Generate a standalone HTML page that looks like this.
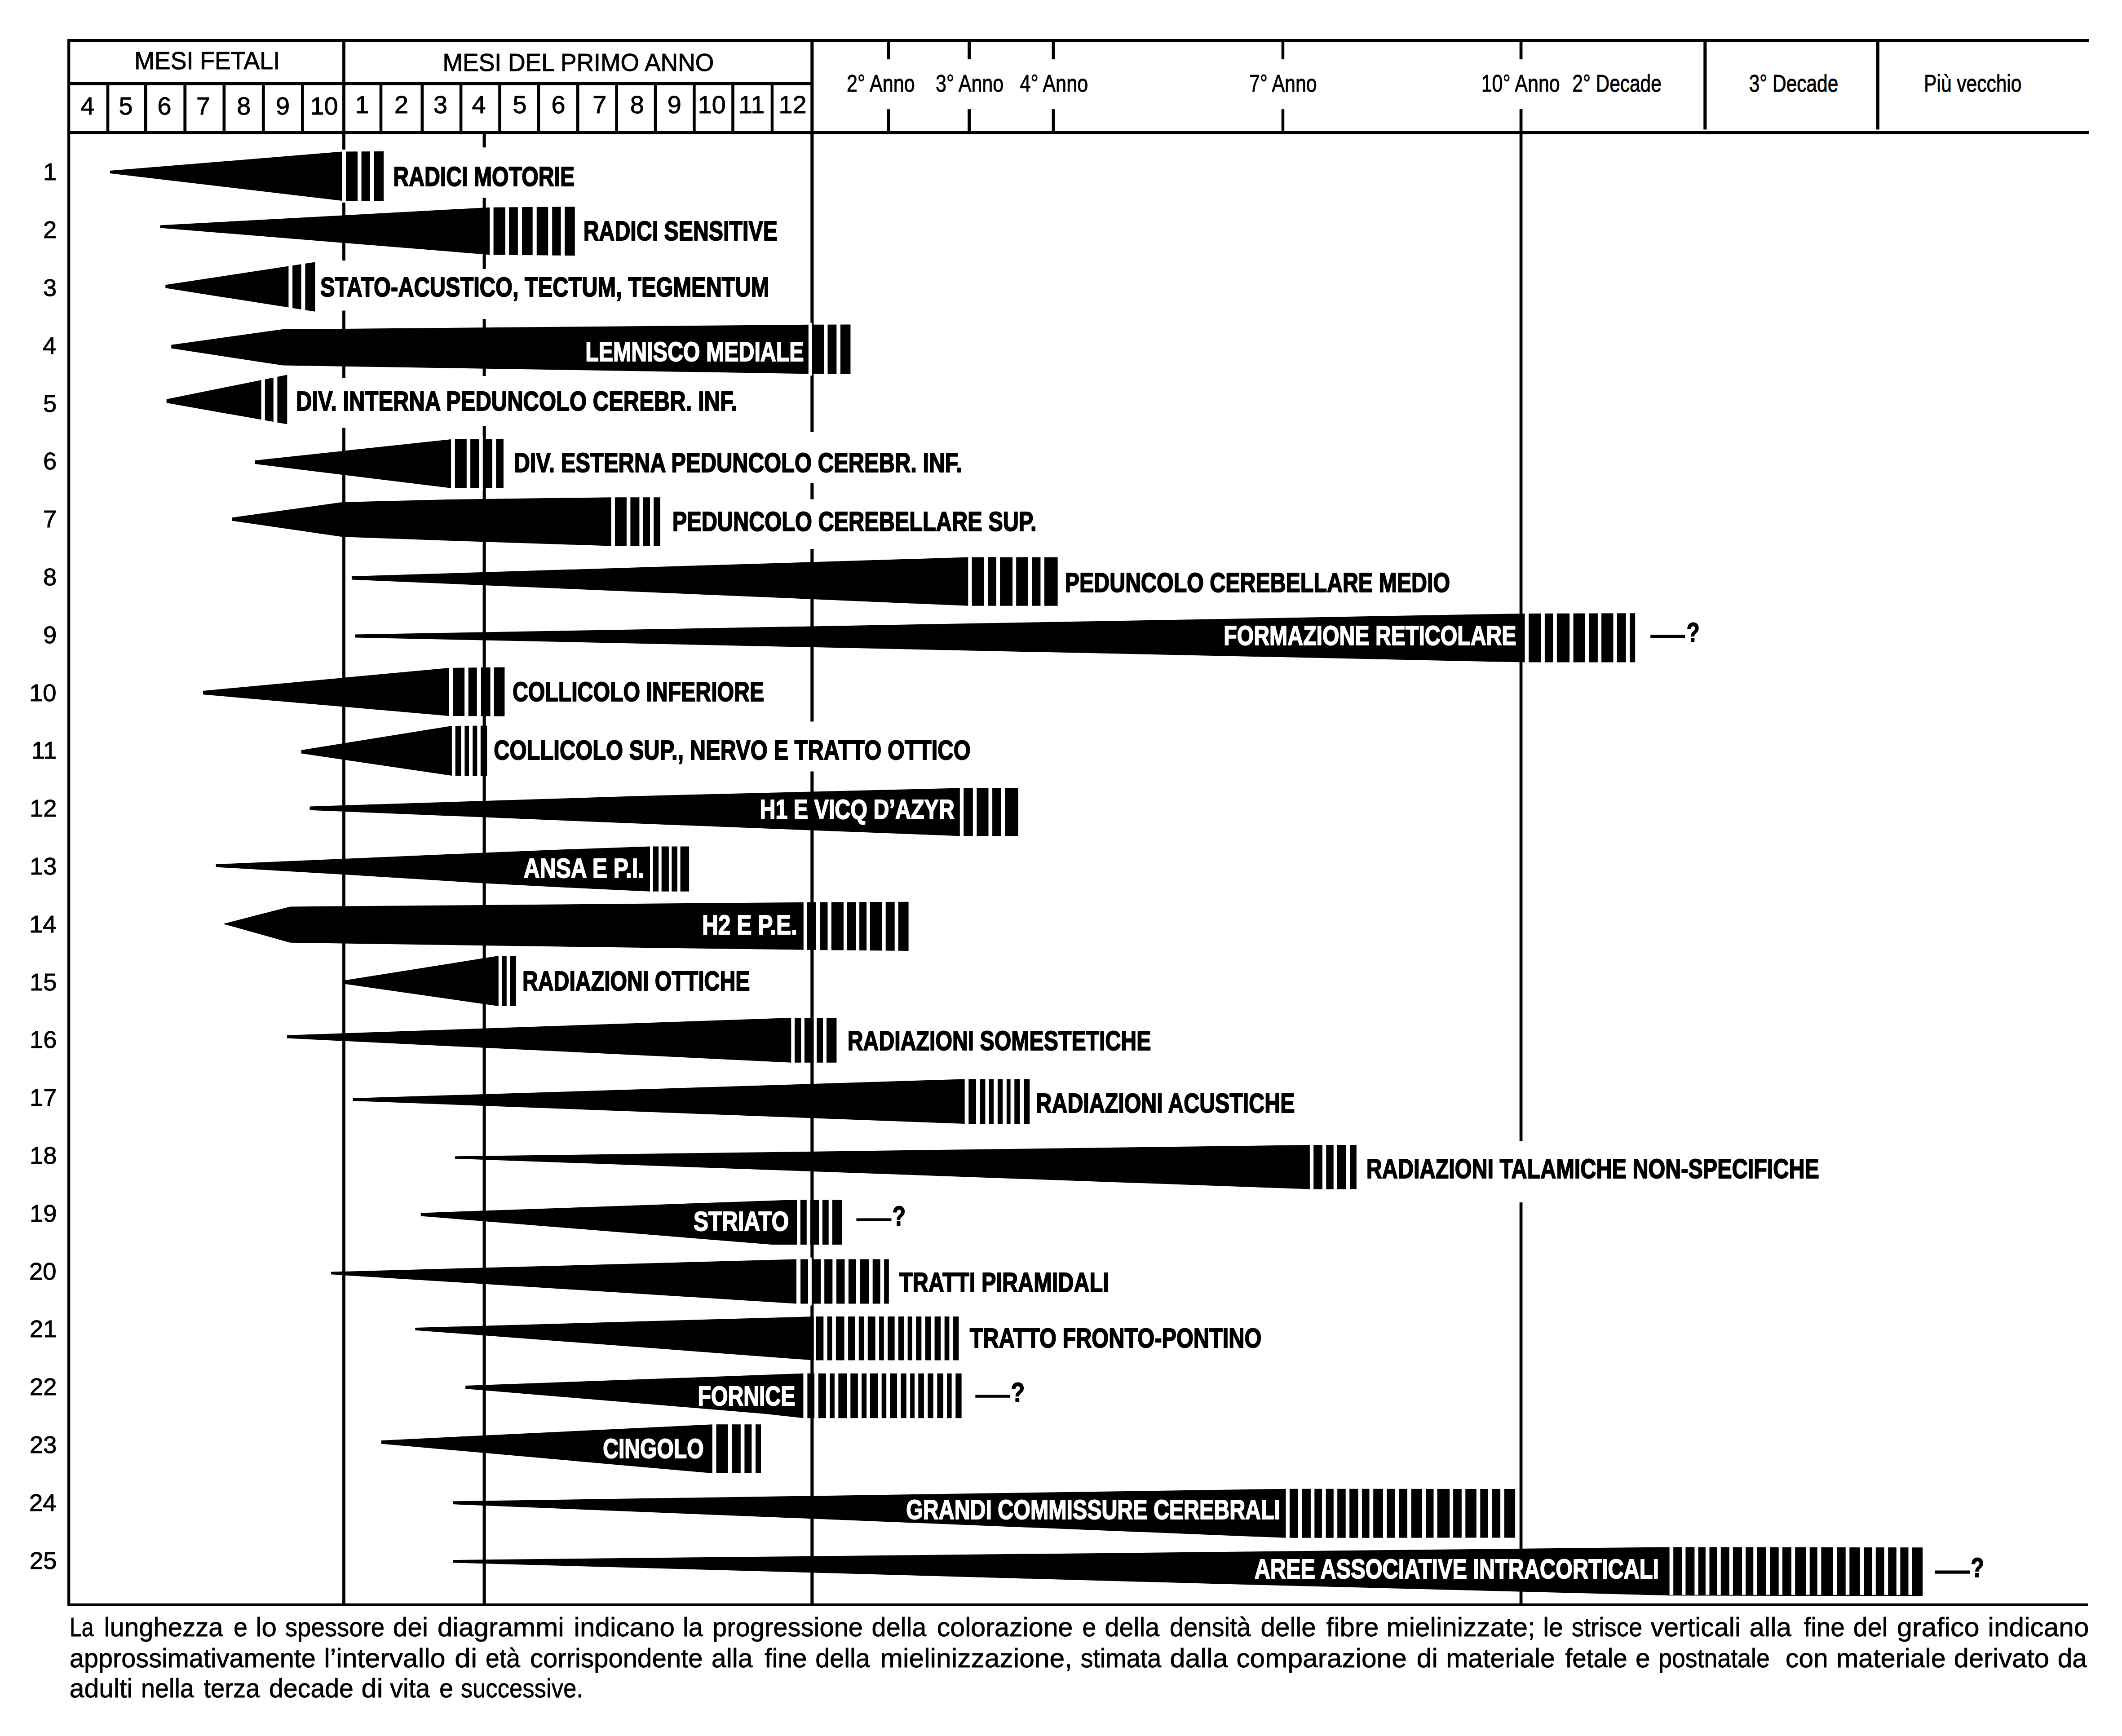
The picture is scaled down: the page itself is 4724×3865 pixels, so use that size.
<!DOCTYPE html><html><head><meta charset="utf-8"><title>Mielinizzazione</title><style>html,body{margin:0;padding:0;background:#fff;}svg{display:block;}text{font-family:"Liberation Sans",Arial,Helvetica,sans-serif;}</style></head><body>
<svg width="4724" height="3865" viewBox="0 0 4724 3865">
<rect x="0" y="0" width="4724" height="3865" fill="#fff"/>
<g id="frame">
<rect x="150" y="87" width="4500" height="7" fill="#000"/>
<rect x="150" y="87" width="6.3" height="3489" fill="#000"/>
<rect x="150" y="182.5" width="1658" height="7.2" fill="#000"/>
<rect x="150" y="292" width="4501" height="7" fill="#000"/>
<rect x="150" y="3569.8" width="4498" height="6.2" fill="#000"/>
<rect x="236.7" y="189" width="6.6" height="104" fill="#000"/>
<rect x="320.9" y="189" width="6.8" height="104" fill="#000"/>
<rect x="408.4" y="189" width="6.8" height="104" fill="#000"/>
<rect x="495.5" y="189" width="6.7" height="104" fill="#000"/>
<rect x="582.9" y="189" width="6.8" height="104" fill="#000"/>
<rect x="670" y="189" width="6.8" height="104" fill="#000"/>
<rect x="844.7" y="189" width="6.6" height="104" fill="#000"/>
<rect x="936.5" y="189" width="6.8" height="104" fill="#000"/>
<rect x="1022.8" y="189" width="6.6" height="104" fill="#000"/>
<rect x="1109.2" y="189" width="6.6" height="104" fill="#000"/>
<rect x="1195.7" y="189" width="6.6" height="104" fill="#000"/>
<rect x="1282.9" y="189" width="6.6" height="104" fill="#000"/>
<rect x="1369.3" y="189" width="6.4" height="104" fill="#000"/>
<rect x="1455.8" y="189" width="6.6" height="104" fill="#000"/>
<rect x="1542.1" y="189" width="6.6" height="104" fill="#000"/>
<rect x="1628.2" y="189" width="6.6" height="104" fill="#000"/>
<rect x="1715.7" y="189" width="6.4" height="104" fill="#000"/>
<rect x="1974.7" y="93" width="6.8" height="39.1" fill="#000"/>
<rect x="1974.7" y="243.2" width="6.8" height="49.8" fill="#000"/>
<rect x="2154.2" y="93" width="7.1" height="39.1" fill="#000"/>
<rect x="2154.2" y="243.2" width="7.1" height="49.8" fill="#000"/>
<rect x="2341.6" y="93" width="7" height="39.1" fill="#000"/>
<rect x="2341.6" y="243.2" width="7" height="49.8" fill="#000"/>
<rect x="2852.7" y="93" width="6.5" height="39.1" fill="#000"/>
<rect x="2852.7" y="243.2" width="6.5" height="49.8" fill="#000"/>
<rect x="3792.3" y="93" width="7.1" height="195.4" fill="#000"/>
<rect x="4176.8" y="93" width="7.1" height="195.4" fill="#000"/>
<rect x="762.1" y="87" width="6.8" height="493" fill="#000"/>
<rect x="762.1" y="691.5" width="6.8" height="149.5" fill="#000"/>
<rect x="762.1" y="952.5" width="6.8" height="2620.5" fill="#000"/>
<rect x="1074.6" y="298" width="7" height="30.3" fill="#000"/>
<rect x="1074.6" y="440.3" width="7" height="158.7" fill="#000"/>
<rect x="1074.6" y="710" width="7" height="127" fill="#000"/>
<rect x="1074.6" y="948.9" width="7" height="2624.1" fill="#000"/>
<rect x="1804.3" y="87" width="7.1" height="875" fill="#000"/>
<rect x="1804.3" y="1075.4" width="7.1" height="36.1" fill="#000"/>
<rect x="1804.3" y="1222" width="7.1" height="384.5" fill="#000"/>
<rect x="1804.3" y="1717.5" width="7.1" height="1855.5" fill="#000"/>
<rect x="3382.7" y="93" width="6.7" height="39.1" fill="#000"/>
<rect x="3382.7" y="243" width="6.7" height="2298" fill="#000"/>
<rect x="3382.7" y="2677" width="6.7" height="896" fill="#000"/>
</g>
<g id="wedges">
<polygon points="245,380 761.6,337.6 854.1,337 854.1,447 761.6,447 245,386" fill="#000"/>
<polygon points="356.4,501.5 1090.2,461.7 1279.7,460.3 1279.7,569 1090.2,567.2 356.4,507.5" fill="#000"/>
<polygon points="368.3,634.2 701.3,583.6 701.3,693.8 368.3,641.3" fill="#000"/>
<polygon points="381.3,767.8 629.7,733.1 1799.8,722.8 1893.4,722.6 1893.4,832.3 1799.8,832.3 629.7,813.5 381.3,775.6" fill="#000"/>
<polygon points="370.7,888.7 639.3,834.5 639.3,944.5 370.7,897" fill="#000"/>
<polygon points="567.8,1025.1 1004.2,977.9 1120.9,977.8 1120.9,1086.8 1004.2,1086.8 567.8,1033" fill="#000"/>
<polygon points="516.8,1152.3 762,1118 1000,1111.9 1360.7,1107.2 1470,1107.2 1470,1215.6 1360.7,1215.6 1000,1203.7 762,1195.2 516.8,1159.6" fill="#000"/>
<polygon points="782.9,1282.9 2155.3,1240.6 2354.6,1240.6 2354.6,1348.8 2155.3,1348.8 782.9,1290.5" fill="#000"/>
<polygon points="790.5,1412.6 3394.5,1365.9 3640.2,1365.2 3640.2,1474.6 3394.5,1474.6 790.5,1419.4" fill="#000"/>
<polygon points="452,1538 999.5,1487 1123.4,1485.5 1123.4,1594.8 999.5,1594 452,1546.3" fill="#000"/>
<polygon points="670.7,1670 1005.9,1616 1084.2,1615.5 1084.2,1727.5 1005.9,1727 670.7,1677.5" fill="#000"/>
<polygon points="689.5,1795.4 1420,1772.2 2136.8,1754.4 2266.9,1754.4 2266.9,1861.2 2136.8,1861.2 1420,1833.6 689.5,1803.7" fill="#000"/>
<polygon points="480.7,1924.1 765,1912 1078,1898.5 1260,1891 1447,1884.5 1534.1,1884.5 1534.1,1984.8 1447,1984.8 1260,1976 1078,1966.5 765,1947 480.7,1930.5" fill="#000"/>
<polygon points="498.3,2056.4 646,2018.4 1250,2013.5 1788.8,2008.8 2022.6,2007.8 2022.6,2117 1788.8,2114.7 1250,2107.6 646,2098.7 498.3,2057.4" fill="#000"/>
<polygon points="767.8,2182.4 1109.8,2128.1 1148.9,2128.1 1148.9,2240 1109.8,2240 767.8,2190.7" fill="#000"/>
<polygon points="638.8,2304.8 1761.3,2266.1 1862.4,2266.1 1862.4,2365.7 1761.3,2365.7 638.8,2311.6" fill="#000"/>
<polygon points="785.5,2445.1 2147.6,2402.5 2292.2,2402.5 2292.2,2502.1 2147.6,2502.1 785.5,2451.1" fill="#000"/>
<polygon points="1012.9,2574.4 2915.9,2549.1 3019.8,2549.1 3019.8,2647.5 2915.9,2647.5 1012.9,2579.7" fill="#000"/>
<polygon points="936.7,2700.4 1774,2671 1874.8,2671 1874.8,2771 1718,2770.9 936.7,2707.5" fill="#000"/>
<polygon points="736.9,2831.6 1773,2803.6 1978.8,2803.6 1978.8,2902.5 1773,2902.5 736.9,2837.3" fill="#000"/>
<polygon points="924.3,2956 1811.7,2931 2134.4,2931 2134.4,3028.6 1811.7,3028.6 924.3,2961.7" fill="#000"/>
<polygon points="1036.2,3085.1 1788.4,3057.8 2140.6,3057.8 2140.6,3157.2 1788.4,3157.2 1700,3147.5 1036.2,3091.9" fill="#000"/>
<polygon points="848.8,3206.9 1585.8,3171.3 1694,3171.3 1694,3280 1585.8,3280 848.8,3214.5" fill="#000"/>
<polygon points="1008.1,3342.3 2862.4,3314.8 3373.1,3315 3373.1,3423.5 2862.4,3423.8 1008.1,3349.1" fill="#000"/>
<polygon points="1008.1,3473 2700,3455.3 3716.6,3444.4 4280.2,3445.3 4280.2,3553.8 3716.6,3552.2 2700,3526 1008.1,3479.3" fill="#000"/>
</g>
<g id="gaps" fill="#fff">
<rect x="761.6" y="333" width="8.5" height="118"/>
<rect x="796.1" y="333" width="8.5" height="118"/>
<rect x="823.5" y="333" width="8.5" height="118"/>
<rect x="1090.2" y="456.3" width="8.4" height="116.7"/>
<rect x="1124.9" y="456.3" width="8.2" height="116.7"/>
<rect x="1152.9" y="456.3" width="9.1" height="116.7"/>
<rect x="1185.7" y="456.3" width="9.1" height="116.7"/>
<rect x="1220.2" y="456.3" width="9" height="116.7"/>
<rect x="1248.5" y="456.3" width="8.5" height="116.7"/>
<rect x="642.4" y="579.6" width="8.7" height="118.2"/>
<rect x="670.6" y="579.6" width="8.8" height="118.2"/>
<rect x="1799.8" y="718.6" width="8.1" height="117.7"/>
<rect x="1834.2" y="718.6" width="8.3" height="117.7"/>
<rect x="1862.3" y="718.6" width="8.6" height="117.7"/>
<rect x="581.6" y="830.5" width="8.2" height="118"/>
<rect x="608.7" y="830.5" width="8.7" height="118"/>
<rect x="1004.1" y="973.8" width="8.8" height="117"/>
<rect x="1038.8" y="973.8" width="8.3" height="117"/>
<rect x="1067" y="973.8" width="7.8" height="117"/>
<rect x="1096" y="973.8" width="8.3" height="117"/>
<rect x="1360.7" y="1103.2" width="8.2" height="116.4"/>
<rect x="1394.9" y="1103.2" width="8.5" height="116.4"/>
<rect x="1423.4" y="1103.2" width="8.3" height="116.4"/>
<rect x="1447" y="1103.2" width="8.2" height="116.4"/>
<rect x="2155.3" y="1236.6" width="8.4" height="116.2"/>
<rect x="2190" y="1236.6" width="9" height="116.2"/>
<rect x="2218" y="1236.6" width="8.1" height="116.2"/>
<rect x="2254.1" y="1236.6" width="8.1" height="116.2"/>
<rect x="2288.9" y="1236.6" width="8.4" height="116.2"/>
<rect x="2316.4" y="1236.6" width="8.5" height="116.2"/>
<rect x="3394.5" y="1361.2" width="8.6" height="117.4"/>
<rect x="3430.4" y="1361.2" width="8.5" height="117.4"/>
<rect x="3457.3" y="1361.2" width="8.6" height="117.4"/>
<rect x="3494.1" y="1361.2" width="8.5" height="117.4"/>
<rect x="3528.7" y="1361.2" width="8.3" height="117.4"/>
<rect x="3556.9" y="1361.2" width="8.2" height="117.4"/>
<rect x="3591.5" y="1361.2" width="8.3" height="117.4"/>
<rect x="3619.7" y="1361.2" width="8.5" height="117.4"/>
<rect x="999.5" y="1481.5" width="8.7" height="117.3"/>
<rect x="1034.1" y="1481.5" width="8.6" height="117.3"/>
<rect x="1061.7" y="1481.5" width="9.2" height="117.3"/>
<rect x="1091.6" y="1481.5" width="8.2" height="117.3"/>
<rect x="1005.9" y="1611.5" width="7.8" height="120"/>
<rect x="1026.6" y="1611.5" width="7.8" height="120"/>
<rect x="1044.1" y="1611.5" width="8.1" height="120"/>
<rect x="1062.3" y="1611.5" width="7.6" height="120"/>
<rect x="2136.8" y="1750.4" width="8.5" height="114.8"/>
<rect x="2165.8" y="1750.4" width="8.6" height="114.8"/>
<rect x="2200.5" y="1750.4" width="8.6" height="114.8"/>
<rect x="2228.6" y="1750.4" width="8.5" height="114.8"/>
<rect x="1447" y="1880.5" width="6.7" height="108.3"/>
<rect x="1466.1" y="1880.5" width="6.6" height="108.3"/>
<rect x="1488.9" y="1880.5" width="6.4" height="108.3"/>
<rect x="1507.9" y="1880.5" width="6.7" height="108.3"/>
<rect x="1788.8" y="2003.8" width="8.2" height="117.2"/>
<rect x="1816.8" y="2003.8" width="8.2" height="117.2"/>
<rect x="1842.5" y="2003.8" width="8.3" height="117.2"/>
<rect x="1877.9" y="2003.8" width="8.1" height="117.2"/>
<rect x="1905.1" y="2003.8" width="8" height="117.2"/>
<rect x="1929.1" y="2003.8" width="7.8" height="117.2"/>
<rect x="1963.4" y="2003.8" width="8.3" height="117.2"/>
<rect x="1991.7" y="2003.8" width="8" height="117.2"/>
<rect x="1109.8" y="2124.1" width="7.3" height="119.9"/>
<rect x="1127.8" y="2124.1" width="7.5" height="119.9"/>
<rect x="1761.3" y="2262.1" width="7.7" height="107.6"/>
<rect x="1783.4" y="2262.1" width="7.5" height="107.6"/>
<rect x="1811.5" y="2262.1" width="6.7" height="107.6"/>
<rect x="1832.1" y="2262.1" width="7.9" height="107.6"/>
<rect x="2147.6" y="2398.5" width="8.7" height="107.6"/>
<rect x="2173" y="2398.5" width="8.9" height="107.6"/>
<rect x="2193.4" y="2398.5" width="8.2" height="107.6"/>
<rect x="2212" y="2398.5" width="8.9" height="107.6"/>
<rect x="2232.1" y="2398.5" width="8.8" height="107.6"/>
<rect x="2249.6" y="2398.5" width="8.7" height="107.6"/>
<rect x="2270.3" y="2398.5" width="8.7" height="107.6"/>
<rect x="2915.9" y="2545.1" width="8.3" height="106.4"/>
<rect x="2943.9" y="2545.1" width="8.4" height="106.4"/>
<rect x="2968.7" y="2545.1" width="8.2" height="106.4"/>
<rect x="2996.9" y="2545.1" width="8.2" height="106.4"/>
<rect x="1774" y="2667" width="7.8" height="108"/>
<rect x="1795.8" y="2667" width="7.9" height="108"/>
<rect x="1823.2" y="2667" width="7.7" height="108"/>
<rect x="1844.7" y="2667" width="8.1" height="108"/>
<rect x="1773" y="2799.6" width="9.1" height="106.9"/>
<rect x="1799" y="2799.6" width="7.9" height="106.9"/>
<rect x="1827" y="2799.6" width="8.2" height="106.9"/>
<rect x="1853.3" y="2799.6" width="8.7" height="106.9"/>
<rect x="1880.4" y="2799.6" width="8.5" height="106.9"/>
<rect x="1905.9" y="2799.6" width="8.5" height="106.9"/>
<rect x="1934.2" y="2799.6" width="8.5" height="106.9"/>
<rect x="1959.6" y="2799.6" width="8.5" height="106.9"/>
<rect x="1811.7" y="2927" width="4.6" height="105.6"/>
<rect x="1833.3" y="2927" width="8.4" height="105.6"/>
<rect x="1852.4" y="2927" width="8.5" height="105.6"/>
<rect x="1879.6" y="2927" width="8.5" height="105.6"/>
<rect x="1903.3" y="2927" width="8.5" height="105.6"/>
<rect x="1923.4" y="2927" width="8.4" height="105.6"/>
<rect x="1948.6" y="2927" width="8.5" height="105.6"/>
<rect x="1967.8" y="2927" width="8.5" height="105.6"/>
<rect x="1991.6" y="2927" width="8.4" height="105.6"/>
<rect x="2012.3" y="2927" width="8.4" height="105.6"/>
<rect x="2030.6" y="2927" width="8.5" height="105.6"/>
<rect x="2051.3" y="2927" width="8.5" height="105.6"/>
<rect x="2072.5" y="2927" width="8.1" height="105.6"/>
<rect x="2094.2" y="2927" width="8.5" height="105.6"/>
<rect x="2113.4" y="2927" width="8.3" height="105.6"/>
<rect x="1788.4" y="3053.8" width="9" height="107.4"/>
<rect x="1813.1" y="3053.8" width="8.7" height="107.4"/>
<rect x="1838.9" y="3053.8" width="8.2" height="107.4"/>
<rect x="1857.9" y="3053.8" width="8.4" height="107.4"/>
<rect x="1885.1" y="3053.8" width="8.2" height="107.4"/>
<rect x="1909.9" y="3053.8" width="8.2" height="107.4"/>
<rect x="1929.1" y="3053.8" width="7.8" height="107.4"/>
<rect x="1954" y="3053.8" width="8.7" height="107.4"/>
<rect x="1973.2" y="3053.8" width="8.5" height="107.4"/>
<rect x="1997.1" y="3053.8" width="8.2" height="107.4"/>
<rect x="2017.7" y="3053.8" width="8.5" height="107.4"/>
<rect x="2036" y="3053.8" width="8.3" height="107.4"/>
<rect x="2056.9" y="3053.8" width="8.5" height="107.4"/>
<rect x="2077.7" y="3053.8" width="8.7" height="107.4"/>
<rect x="2100" y="3053.8" width="8.2" height="107.4"/>
<rect x="2118.6" y="3053.8" width="8.7" height="107.4"/>
<rect x="1585.8" y="3167.3" width="8.7" height="116.7"/>
<rect x="1620.5" y="3167.3" width="8.7" height="116.7"/>
<rect x="1648.8" y="3167.3" width="8.6" height="116.7"/>
<rect x="1673.3" y="3167.3" width="8.7" height="116.7"/>
<rect x="2862.4" y="3310.8" width="8.5" height="117"/>
<rect x="2889.6" y="3310.8" width="8.5" height="117"/>
<rect x="2917.9" y="3310.8" width="8.4" height="117"/>
<rect x="2942.9" y="3310.8" width="8.7" height="117"/>
<rect x="2968.8" y="3310.8" width="8.4" height="117"/>
<rect x="2995.7" y="3310.8" width="8.5" height="117"/>
<rect x="3023.4" y="3310.8" width="8.5" height="117"/>
<rect x="3048.5" y="3310.8" width="8.7" height="117"/>
<rect x="3078.9" y="3310.8" width="8.4" height="117"/>
<rect x="3105.8" y="3310.8" width="8.7" height="117"/>
<rect x="3133" y="3310.8" width="8.7" height="117"/>
<rect x="3165.9" y="3310.8" width="8.5" height="117"/>
<rect x="3191.5" y="3310.8" width="8.2" height="117"/>
<rect x="3227.2" y="3310.8" width="7.9" height="117"/>
<rect x="3253.8" y="3310.8" width="8.5" height="117"/>
<rect x="3286.8" y="3310.8" width="8.5" height="117"/>
<rect x="3313" y="3310.8" width="8.7" height="117"/>
<rect x="3340.1" y="3310.8" width="8.7" height="117"/>
<rect x="3716.6" y="3440.4" width="8.6" height="110.4"/>
<rect x="3744.1" y="3440.4" width="8.3" height="110.4"/>
<rect x="3772.4" y="3440.4" width="8.3" height="110.4"/>
<rect x="3796.9" y="3440.4" width="8.6" height="110.4"/>
<rect x="3822.5" y="3440.4" width="8.3" height="110.4"/>
<rect x="3849.7" y="3440.4" width="8.2" height="110.4"/>
<rect x="3877.9" y="3440.4" width="8.3" height="110.4"/>
<rect x="3903.2" y="3440.4" width="8.3" height="110.4"/>
<rect x="3931.8" y="3440.4" width="8.3" height="110.4"/>
<rect x="3959.7" y="3440.4" width="8.3" height="110.4"/>
<rect x="3988" y="3440.4" width="8.3" height="110.4"/>
<rect x="4020.1" y="3440.4" width="8.6" height="110.4"/>
<rect x="4045.7" y="3440.4" width="8.7" height="110.4"/>
<rect x="4080.4" y="3440.4" width="8.6" height="110.4"/>
<rect x="4108.7" y="3440.4" width="8.6" height="110.4"/>
<rect x="4140.7" y="3440.4" width="8.7" height="110.4"/>
<rect x="4167.5" y="3440.4" width="8.3" height="110.4"/>
<rect x="4194.6" y="3440.4" width="8.7" height="110.4"/>
<rect x="4221.8" y="3440.4" width="8.6" height="110.4"/>
<rect x="4248.5" y="3440.4" width="8.3" height="110.4"/>
</g>
<rect x="3674.2" y="1413.3" width="77.2" height="6.8" fill="#000"/>
<rect x="1906.4" y="2712.4" width="78.1" height="6.4" fill="#000"/>
<rect x="2171.3" y="3105.4" width="77.3" height="6.4" fill="#000"/>
<rect x="4307" y="3496.5" width="78" height="7.2" fill="#000"/>
<g id="texts">
<text x="875.3" y="414.4" font-weight="bold" font-size="61.0" fill="#000" stroke="#000" stroke-width="2.0" stroke-linejoin="round" textLength="403.9" lengthAdjust="spacingAndGlyphs">RADICI MOTORIE</text>
<text x="1298.7" y="534.9" font-weight="bold" font-size="61.0" fill="#000" stroke="#000" stroke-width="2.0" stroke-linejoin="round" textLength="432.2" lengthAdjust="spacingAndGlyphs">RADICI SENSITIVE</text>
<text x="712.9" y="659.9" font-weight="bold" font-size="61.0" fill="#000" stroke="#000" stroke-width="2.0" stroke-linejoin="round" textLength="999.6" lengthAdjust="spacingAndGlyphs">STATO-ACUSTICO, TECTUM, TEGMENTUM</text>
<text x="1303.2" y="804.4" font-weight="bold" font-size="61.0" fill="#fff" stroke="#fff" stroke-width="2.0" stroke-linejoin="round" textLength="486.4" lengthAdjust="spacingAndGlyphs">LEMNISCO MEDIALE</text>
<text x="659.1" y="913.9" font-weight="bold" font-size="61.0" fill="#000" stroke="#000" stroke-width="2.0" stroke-linejoin="round" textLength="981.9" lengthAdjust="spacingAndGlyphs">DIV. INTERNA PEDUNCOLO CEREBR. INF.</text>
<text x="1144.4" y="1050.7" font-weight="bold" font-size="61.0" fill="#000" stroke="#000" stroke-width="2.0" stroke-linejoin="round" textLength="997.2" lengthAdjust="spacingAndGlyphs">DIV. ESTERNA PEDUNCOLO CEREBR. INF.</text>
<text x="1496.7" y="1182.2" font-weight="bold" font-size="61.0" fill="#000" stroke="#000" stroke-width="2.0" stroke-linejoin="round" textLength="810.9" lengthAdjust="spacingAndGlyphs">PEDUNCOLO CEREBELLARE SUP.</text>
<text x="2370.8" y="1318.2" font-weight="bold" font-size="61.0" fill="#000" stroke="#000" stroke-width="2.0" stroke-linejoin="round" textLength="857.3" lengthAdjust="spacingAndGlyphs">PEDUNCOLO CEREBELLARE MEDIO</text>
<text x="2724.3" y="1436.2" font-weight="bold" font-size="61.0" fill="#fff" stroke="#fff" stroke-width="2.0" stroke-linejoin="round" textLength="651.2" lengthAdjust="spacingAndGlyphs">FORMAZIONE RETICOLARE</text>
<text x="1140.9" y="1561.1" font-weight="bold" font-size="61.0" fill="#000" stroke="#000" stroke-width="2.0" stroke-linejoin="round" textLength="560.2" lengthAdjust="spacingAndGlyphs">COLLICOLO INFERIORE</text>
<text x="1099.2" y="1690.7" font-weight="bold" font-size="61.0" fill="#000" stroke="#000" stroke-width="2.0" stroke-linejoin="round" textLength="1061.5" lengthAdjust="spacingAndGlyphs">COLLICOLO SUP., NERVO E TRATTO OTTICO</text>
<text x="1691.4" y="1823.1" font-weight="bold" font-size="61.0" fill="#fff" stroke="#fff" stroke-width="2.0" stroke-linejoin="round" textLength="433.5" lengthAdjust="spacingAndGlyphs">H1 E VICQ D’AZYR</text>
<text x="1165.7" y="1954.0" font-weight="bold" font-size="61.0" fill="#fff" stroke="#fff" stroke-width="2.0" stroke-linejoin="round" textLength="268.5" lengthAdjust="spacingAndGlyphs">ANSA E P.I.</text>
<text x="1562.9" y="2080.0" font-weight="bold" font-size="61.0" fill="#fff" stroke="#fff" stroke-width="2.0" stroke-linejoin="round" textLength="212.0" lengthAdjust="spacingAndGlyphs">H2 E P.E.</text>
<text x="1162.9" y="2204.5" font-weight="bold" font-size="61.0" fill="#000" stroke="#000" stroke-width="2.0" stroke-linejoin="round" textLength="506.6" lengthAdjust="spacingAndGlyphs">RADIAZIONI OTTICHE</text>
<text x="1886.7" y="2337.5" font-weight="bold" font-size="61.0" fill="#000" stroke="#000" stroke-width="2.0" stroke-linejoin="round" textLength="675.7" lengthAdjust="spacingAndGlyphs">RADIAZIONI SOMESTETICHE</text>
<text x="2306.6" y="2476.7" font-weight="bold" font-size="61.0" fill="#000" stroke="#000" stroke-width="2.0" stroke-linejoin="round" textLength="575.8" lengthAdjust="spacingAndGlyphs">RADIAZIONI ACUSTICHE</text>
<text x="3041.8" y="2622.5" font-weight="bold" font-size="61.0" fill="#000" stroke="#000" stroke-width="2.0" stroke-linejoin="round" textLength="1008.1" lengthAdjust="spacingAndGlyphs">RADIAZIONI TALAMICHE NON-SPECIFICHE</text>
<text x="1543.9" y="2739.7" font-weight="bold" font-size="61.0" fill="#fff" stroke="#fff" stroke-width="2.0" stroke-linejoin="round" textLength="212.4" lengthAdjust="spacingAndGlyphs">STRIATO</text>
<text x="2001.9" y="2875.7" font-weight="bold" font-size="61.0" fill="#000" stroke="#000" stroke-width="2.0" stroke-linejoin="round" textLength="467.0" lengthAdjust="spacingAndGlyphs">TRATTI PIRAMIDALI</text>
<text x="2158.8" y="3000.0" font-weight="bold" font-size="61.0" fill="#000" stroke="#000" stroke-width="2.0" stroke-linejoin="round" textLength="649.6" lengthAdjust="spacingAndGlyphs">TRATTO FRONTO-PONTINO</text>
<text x="1553.5" y="3128.9" font-weight="bold" font-size="61.0" fill="#fff" stroke="#fff" stroke-width="2.0" stroke-linejoin="round" textLength="216.8" lengthAdjust="spacingAndGlyphs">FORNICE</text>
<text x="1342.3" y="3246.2" font-weight="bold" font-size="61.0" fill="#fff" stroke="#fff" stroke-width="2.0" stroke-linejoin="round" textLength="224.3" lengthAdjust="spacingAndGlyphs">CINGOLO</text>
<text x="2017.2" y="3381.7" font-weight="bold" font-size="61.0" fill="#fff" stroke="#fff" stroke-width="2.0" stroke-linejoin="round" textLength="832.8" lengthAdjust="spacingAndGlyphs">GRANDI COMMISSURE CEREBRALI</text>
<text x="2792.7" y="3513.9" font-weight="bold" font-size="61.0" fill="#fff" stroke="#fff" stroke-width="2.0" stroke-linejoin="round" textLength="900.3" lengthAdjust="spacingAndGlyphs">AREE ASSOCIATIVE INTRACORTICALI</text>
<text x="3754.7" y="1429.2" font-weight="bold" font-size="61.0" fill="#000" stroke="#000" stroke-width="2.0" stroke-linejoin="round" textLength="28.9" lengthAdjust="spacingAndGlyphs">?</text>
<text x="1986.8" y="2727.6" font-weight="bold" font-size="61.0" fill="#000" stroke="#000" stroke-width="2.0" stroke-linejoin="round" textLength="29.3" lengthAdjust="spacingAndGlyphs">?</text>
<text x="2250.5" y="3120.6" font-weight="bold" font-size="61.0" fill="#000" stroke="#000" stroke-width="2.0" stroke-linejoin="round" textLength="30.7" lengthAdjust="spacingAndGlyphs">?</text>
<text x="4387.4" y="3511.4" font-weight="bold" font-size="61.0" fill="#000" stroke="#000" stroke-width="2.0" stroke-linejoin="round" textLength="29.3" lengthAdjust="spacingAndGlyphs">?</text>
<text x="299.2" y="154.1" font-weight="normal" font-size="55.2" fill="#000" stroke="#000" stroke-width="1.0" stroke-linejoin="round" textLength="323.9" lengthAdjust="spacingAndGlyphs">MESI FETALI</text>
<text x="985.5" y="157.5" font-weight="normal" font-size="55.2" fill="#000" stroke="#000" stroke-width="1.0" stroke-linejoin="round" textLength="603.8" lengthAdjust="spacingAndGlyphs">MESI DEL PRIMO ANNO</text>
<text x="179.2" y="255.2" font-weight="normal" font-size="55.8" fill="#000" stroke="#000" stroke-width="1.0" stroke-linejoin="round">4</text>
<text x="264.5" y="255.2" font-weight="normal" font-size="55.8" fill="#000" stroke="#000" stroke-width="1.0" stroke-linejoin="round">5</text>
<text x="350.5" y="255.2" font-weight="normal" font-size="55.8" fill="#000" stroke="#000" stroke-width="1.0" stroke-linejoin="round">6</text>
<text x="437.0" y="255.2" font-weight="normal" font-size="55.8" fill="#000" stroke="#000" stroke-width="1.0" stroke-linejoin="round">7</text>
<text x="527.3" y="255.2" font-weight="normal" font-size="55.8" fill="#000" stroke="#000" stroke-width="1.0" stroke-linejoin="round">8</text>
<text x="614.1" y="255.2" font-weight="normal" font-size="55.8" fill="#000" stroke="#000" stroke-width="1.0" stroke-linejoin="round">9</text>
<text x="690.4" y="255.2" font-weight="normal" font-size="55.8" fill="#000" stroke="#000" stroke-width="1.0" stroke-linejoin="round">10</text>
<text x="790.5" y="251.8" font-weight="normal" font-size="55.8" fill="#000" stroke="#000" stroke-width="1.0" stroke-linejoin="round">1</text>
<text x="878.0" y="251.8" font-weight="normal" font-size="55.8" fill="#000" stroke="#000" stroke-width="1.0" stroke-linejoin="round">2</text>
<text x="964.9" y="251.8" font-weight="normal" font-size="55.8" fill="#000" stroke="#000" stroke-width="1.0" stroke-linejoin="round">3</text>
<text x="1050.4" y="251.8" font-weight="normal" font-size="55.8" fill="#000" stroke="#000" stroke-width="1.0" stroke-linejoin="round">4</text>
<text x="1141.4" y="251.8" font-weight="normal" font-size="55.8" fill="#000" stroke="#000" stroke-width="1.0" stroke-linejoin="round">5</text>
<text x="1227.5" y="251.8" font-weight="normal" font-size="55.8" fill="#000" stroke="#000" stroke-width="1.0" stroke-linejoin="round">6</text>
<text x="1319.3" y="251.8" font-weight="normal" font-size="55.8" fill="#000" stroke="#000" stroke-width="1.0" stroke-linejoin="round">7</text>
<text x="1402.8" y="251.8" font-weight="normal" font-size="55.8" fill="#000" stroke="#000" stroke-width="1.0" stroke-linejoin="round">8</text>
<text x="1485.7" y="251.8" font-weight="normal" font-size="55.8" fill="#000" stroke="#000" stroke-width="1.0" stroke-linejoin="round">9</text>
<text x="1553.8" y="251.8" font-weight="normal" font-size="55.8" fill="#000" stroke="#000" stroke-width="1.0" stroke-linejoin="round">10</text>
<text x="1644.3" y="251.8" font-weight="normal" font-size="55.8" fill="#000" stroke="#000" stroke-width="1.0" stroke-linejoin="round">11</text>
<text x="1733.5" y="251.8" font-weight="normal" font-size="55.8" fill="#000" stroke="#000" stroke-width="1.0" stroke-linejoin="round">12</text>
<text x="1885.1" y="204.3" font-weight="normal" font-size="53.8" fill="#000" stroke="#000" stroke-width="1.0" stroke-linejoin="round" textLength="151.6" lengthAdjust="spacingAndGlyphs">2° Anno</text>
<text x="2083.0" y="204.3" font-weight="normal" font-size="53.8" fill="#000" stroke="#000" stroke-width="1.0" stroke-linejoin="round" textLength="151.2" lengthAdjust="spacingAndGlyphs">3° Anno</text>
<text x="2270.4" y="204.3" font-weight="normal" font-size="53.8" fill="#000" stroke="#000" stroke-width="1.0" stroke-linejoin="round" textLength="151.8" lengthAdjust="spacingAndGlyphs">4° Anno</text>
<text x="2780.9" y="204.3" font-weight="normal" font-size="53.8" fill="#000" stroke="#000" stroke-width="1.0" stroke-linejoin="round" textLength="150.8" lengthAdjust="spacingAndGlyphs">7° Anno</text>
<text x="3297.7" y="204.3" font-weight="normal" font-size="53.8" fill="#000" stroke="#000" stroke-width="1.0" stroke-linejoin="round" textLength="175.1" lengthAdjust="spacingAndGlyphs">10° Anno</text>
<text x="3500.3" y="204.3" font-weight="normal" font-size="53.8" fill="#000" stroke="#000" stroke-width="1.0" stroke-linejoin="round" textLength="198.5" lengthAdjust="spacingAndGlyphs">2° Decade</text>
<text x="3893.7" y="204.3" font-weight="normal" font-size="53.8" fill="#000" stroke="#000" stroke-width="1.0" stroke-linejoin="round" textLength="198.6" lengthAdjust="spacingAndGlyphs">3° Decade</text>
<text x="4283.1" y="204.3" font-weight="normal" font-size="53.8" fill="#000" stroke="#000" stroke-width="1.0" stroke-linejoin="round" textLength="217.3" lengthAdjust="spacingAndGlyphs">Più vecchio</text>
<text x="155.1" y="3643.4" font-weight="normal" font-size="60" fill="#000" stroke="#000" stroke-width="0.8" stroke-linejoin="round" textLength="53.4" lengthAdjust="spacingAndGlyphs">La</text>
<text x="231.5" y="3643.4" font-weight="normal" font-size="60" fill="#000" stroke="#000" stroke-width="0.8" stroke-linejoin="round" textLength="265.2" lengthAdjust="spacingAndGlyphs">lunghezza</text>
<text x="519.9" y="3643.4" font-weight="normal" font-size="60" fill="#000" stroke="#000" stroke-width="0.8" stroke-linejoin="round" textLength="31.0" lengthAdjust="spacingAndGlyphs">e</text>
<text x="569.2" y="3643.4" font-weight="normal" font-size="60" fill="#000" stroke="#000" stroke-width="0.8" stroke-linejoin="round" textLength="46.8" lengthAdjust="spacingAndGlyphs">lo</text>
<text x="634.8" y="3643.4" font-weight="normal" font-size="60" fill="#000" stroke="#000" stroke-width="0.8" stroke-linejoin="round" textLength="221.3" lengthAdjust="spacingAndGlyphs">spessore</text>
<text x="875.1" y="3643.4" font-weight="normal" font-size="60" fill="#000" stroke="#000" stroke-width="0.8" stroke-linejoin="round" textLength="78.0" lengthAdjust="spacingAndGlyphs">dei</text>
<text x="974.0" y="3643.4" font-weight="normal" font-size="60" fill="#000" stroke="#000" stroke-width="0.8" stroke-linejoin="round" textLength="281.7" lengthAdjust="spacingAndGlyphs">diagrammi</text>
<text x="1277.6" y="3643.4" font-weight="normal" font-size="60" fill="#000" stroke="#000" stroke-width="0.8" stroke-linejoin="round" textLength="224.3" lengthAdjust="spacingAndGlyphs">indicano</text>
<text x="1520.0" y="3643.4" font-weight="normal" font-size="60" fill="#000" stroke="#000" stroke-width="0.8" stroke-linejoin="round" textLength="45.0" lengthAdjust="spacingAndGlyphs">la</text>
<text x="1586.0" y="3643.4" font-weight="normal" font-size="60" fill="#000" stroke="#000" stroke-width="0.8" stroke-linejoin="round" textLength="335.1" lengthAdjust="spacingAndGlyphs">progressione</text>
<text x="1940.6" y="3643.4" font-weight="normal" font-size="60" fill="#000" stroke="#000" stroke-width="0.8" stroke-linejoin="round" textLength="121.8" lengthAdjust="spacingAndGlyphs">della</text>
<text x="2085.7" y="3643.4" font-weight="normal" font-size="60" fill="#000" stroke="#000" stroke-width="0.8" stroke-linejoin="round" textLength="302.8" lengthAdjust="spacingAndGlyphs">colorazione</text>
<text x="2409.3" y="3643.4" font-weight="normal" font-size="60" fill="#000" stroke="#000" stroke-width="0.8" stroke-linejoin="round" textLength="31.1" lengthAdjust="spacingAndGlyphs">e</text>
<text x="2459.5" y="3643.4" font-weight="normal" font-size="60" fill="#000" stroke="#000" stroke-width="0.8" stroke-linejoin="round" textLength="121.8" lengthAdjust="spacingAndGlyphs">della</text>
<text x="2604.1" y="3643.4" font-weight="normal" font-size="60" fill="#000" stroke="#000" stroke-width="0.8" stroke-linejoin="round" textLength="180.6" lengthAdjust="spacingAndGlyphs">densità</text>
<text x="2806.5" y="3643.4" font-weight="normal" font-size="60" fill="#000" stroke="#000" stroke-width="0.8" stroke-linejoin="round" textLength="123.3" lengthAdjust="spacingAndGlyphs">delle</text>
<text x="2952.6" y="3643.4" font-weight="normal" font-size="60" fill="#000" stroke="#000" stroke-width="0.8" stroke-linejoin="round" textLength="116.7" lengthAdjust="spacingAndGlyphs">fibre</text>
<text x="3086.6" y="3643.4" font-weight="normal" font-size="60" fill="#000" stroke="#000" stroke-width="0.8" stroke-linejoin="round" textLength="331.2" lengthAdjust="spacingAndGlyphs">mielinizzate;</text>
<text x="3435.2" y="3643.4" font-weight="normal" font-size="60" fill="#000" stroke="#000" stroke-width="0.8" stroke-linejoin="round" textLength="44.7" lengthAdjust="spacingAndGlyphs">le</text>
<text x="3498.7" y="3643.4" font-weight="normal" font-size="60" fill="#000" stroke="#000" stroke-width="0.8" stroke-linejoin="round" textLength="157.6" lengthAdjust="spacingAndGlyphs">strisce</text>
<text x="3674.7" y="3643.4" font-weight="normal" font-size="60" fill="#000" stroke="#000" stroke-width="0.8" stroke-linejoin="round" textLength="200.4" lengthAdjust="spacingAndGlyphs">verticali</text>
<text x="3894.4" y="3643.4" font-weight="normal" font-size="60" fill="#000" stroke="#000" stroke-width="0.8" stroke-linejoin="round" textLength="93.7" lengthAdjust="spacingAndGlyphs">alla</text>
<text x="4015.4" y="3643.4" font-weight="normal" font-size="60" fill="#000" stroke="#000" stroke-width="0.8" stroke-linejoin="round" textLength="91.5" lengthAdjust="spacingAndGlyphs">fine</text>
<text x="4125.7" y="3643.4" font-weight="normal" font-size="60" fill="#000" stroke="#000" stroke-width="0.8" stroke-linejoin="round" textLength="76.7" lengthAdjust="spacingAndGlyphs">del</text>
<text x="4223.1" y="3643.4" font-weight="normal" font-size="60" fill="#000" stroke="#000" stroke-width="0.8" stroke-linejoin="round" textLength="183.4" lengthAdjust="spacingAndGlyphs">grafico</text>
<text x="4425.6" y="3643.4" font-weight="normal" font-size="60" fill="#000" stroke="#000" stroke-width="0.8" stroke-linejoin="round" textLength="224.9" lengthAdjust="spacingAndGlyphs">indicano</text>
<text x="154.9" y="3711.5" font-weight="normal" font-size="60" fill="#000" stroke="#000" stroke-width="0.8" stroke-linejoin="round" textLength="548.0" lengthAdjust="spacingAndGlyphs">approssimativamente</text>
<text x="721.2" y="3711.5" font-weight="normal" font-size="60" fill="#000" stroke="#000" stroke-width="0.8" stroke-linejoin="round" textLength="270.3" lengthAdjust="spacingAndGlyphs">l’intervallo</text>
<text x="1012.2" y="3711.5" font-weight="normal" font-size="60" fill="#000" stroke="#000" stroke-width="0.8" stroke-linejoin="round" textLength="50.1" lengthAdjust="spacingAndGlyphs">di</text>
<text x="1081.1" y="3711.5" font-weight="normal" font-size="60" fill="#000" stroke="#000" stroke-width="0.8" stroke-linejoin="round" textLength="77.0" lengthAdjust="spacingAndGlyphs">età</text>
<text x="1179.9" y="3711.5" font-weight="normal" font-size="60" fill="#000" stroke="#000" stroke-width="0.8" stroke-linejoin="round" textLength="384.7" lengthAdjust="spacingAndGlyphs">corrispondente</text>
<text x="1583.9" y="3711.5" font-weight="normal" font-size="60" fill="#000" stroke="#000" stroke-width="0.8" stroke-linejoin="round" textLength="91.7" lengthAdjust="spacingAndGlyphs">alla</text>
<text x="1702.1" y="3711.5" font-weight="normal" font-size="60" fill="#000" stroke="#000" stroke-width="0.8" stroke-linejoin="round" textLength="94.5" lengthAdjust="spacingAndGlyphs">fine</text>
<text x="1815.2" y="3711.5" font-weight="normal" font-size="60" fill="#000" stroke="#000" stroke-width="0.8" stroke-linejoin="round" textLength="121.6" lengthAdjust="spacingAndGlyphs">della</text>
<text x="1959.6" y="3711.5" font-weight="normal" font-size="60" fill="#000" stroke="#000" stroke-width="0.8" stroke-linejoin="round" textLength="427.4" lengthAdjust="spacingAndGlyphs">mielinizzazione,</text>
<text x="2405.4" y="3711.5" font-weight="normal" font-size="60" fill="#000" stroke="#000" stroke-width="0.8" stroke-linejoin="round" textLength="180.0" lengthAdjust="spacingAndGlyphs">stimata</text>
<text x="2604.6" y="3711.5" font-weight="normal" font-size="60" fill="#000" stroke="#000" stroke-width="0.8" stroke-linejoin="round" textLength="129.0" lengthAdjust="spacingAndGlyphs">dalla</text>
<text x="2752.4" y="3711.5" font-weight="normal" font-size="60" fill="#000" stroke="#000" stroke-width="0.8" stroke-linejoin="round" textLength="379.4" lengthAdjust="spacingAndGlyphs">comparazione</text>
<text x="3153.8" y="3711.5" font-weight="normal" font-size="60" fill="#000" stroke="#000" stroke-width="0.8" stroke-linejoin="round" textLength="47.2" lengthAdjust="spacingAndGlyphs">di</text>
<text x="3219.2" y="3711.5" font-weight="normal" font-size="60" fill="#000" stroke="#000" stroke-width="0.8" stroke-linejoin="round" textLength="242.7" lengthAdjust="spacingAndGlyphs">materiale</text>
<text x="3484.6" y="3711.5" font-weight="normal" font-size="60" fill="#000" stroke="#000" stroke-width="0.8" stroke-linejoin="round" textLength="138.2" lengthAdjust="spacingAndGlyphs">fetale</text>
<text x="3641.1" y="3711.5" font-weight="normal" font-size="60" fill="#000" stroke="#000" stroke-width="0.8" stroke-linejoin="round" textLength="32.5" lengthAdjust="spacingAndGlyphs">e</text>
<text x="3692.2" y="3711.5" font-weight="normal" font-size="60" fill="#000" stroke="#000" stroke-width="0.8" stroke-linejoin="round" textLength="247.6" lengthAdjust="spacingAndGlyphs">postnatale</text>
<text x="3975.1" y="3711.5" font-weight="normal" font-size="60" fill="#000" stroke="#000" stroke-width="0.8" stroke-linejoin="round" textLength="94.6" lengthAdjust="spacingAndGlyphs">con</text>
<text x="4087.9" y="3711.5" font-weight="normal" font-size="60" fill="#000" stroke="#000" stroke-width="0.8" stroke-linejoin="round" textLength="243.8" lengthAdjust="spacingAndGlyphs">materiale</text>
<text x="4349.8" y="3711.5" font-weight="normal" font-size="60" fill="#000" stroke="#000" stroke-width="0.8" stroke-linejoin="round" textLength="212.1" lengthAdjust="spacingAndGlyphs">derivato</text>
<text x="4580.7" y="3711.5" font-weight="normal" font-size="60" fill="#000" stroke="#000" stroke-width="0.8" stroke-linejoin="round" textLength="65.1" lengthAdjust="spacingAndGlyphs">da</text>
<text x="154.8" y="3779.3" font-weight="normal" font-size="60" fill="#000" stroke="#000" stroke-width="0.8" stroke-linejoin="round" textLength="140.6" lengthAdjust="spacingAndGlyphs">adulti</text>
<text x="314.1" y="3779.3" font-weight="normal" font-size="60" fill="#000" stroke="#000" stroke-width="0.8" stroke-linejoin="round" textLength="117.7" lengthAdjust="spacingAndGlyphs">nella</text>
<text x="453.5" y="3779.3" font-weight="normal" font-size="60" fill="#000" stroke="#000" stroke-width="0.8" stroke-linejoin="round" textLength="125.0" lengthAdjust="spacingAndGlyphs">terza</text>
<text x="599.0" y="3779.3" font-weight="normal" font-size="60" fill="#000" stroke="#000" stroke-width="0.8" stroke-linejoin="round" textLength="188.0" lengthAdjust="spacingAndGlyphs">decade</text>
<text x="804.6" y="3779.3" font-weight="normal" font-size="60" fill="#000" stroke="#000" stroke-width="0.8" stroke-linejoin="round" textLength="47.7" lengthAdjust="spacingAndGlyphs">di</text>
<text x="868.3" y="3779.3" font-weight="normal" font-size="60" fill="#000" stroke="#000" stroke-width="0.8" stroke-linejoin="round" textLength="89.1" lengthAdjust="spacingAndGlyphs">vita</text>
<text x="978.1" y="3779.3" font-weight="normal" font-size="60" fill="#000" stroke="#000" stroke-width="0.8" stroke-linejoin="round" textLength="31.0" lengthAdjust="spacingAndGlyphs">e</text>
<text x="1025.7" y="3779.3" font-weight="normal" font-size="60" fill="#000" stroke="#000" stroke-width="0.8" stroke-linejoin="round" textLength="272.2" lengthAdjust="spacingAndGlyphs">successive.</text>
<text x="96.0" y="401.3" font-size="54.4" stroke="#000" stroke-width="1.0">1</text>
<text x="96.0" y="530.1" font-size="54.4" stroke="#000" stroke-width="1.0">2</text>
<text x="96.0" y="658.9" font-size="54.4" stroke="#000" stroke-width="1.0">3</text>
<text x="95.0" y="787.7" font-size="54.4" stroke="#000" stroke-width="1.0">4</text>
<text x="96.0" y="916.5" font-size="54.4" stroke="#000" stroke-width="1.0">5</text>
<text x="96.0" y="1045.3" font-size="54.4" stroke="#000" stroke-width="1.0">6</text>
<text x="96.0" y="1174.1" font-size="54.4" stroke="#000" stroke-width="1.0">7</text>
<text x="96.0" y="1302.9" font-size="54.4" stroke="#000" stroke-width="1.0">8</text>
<text x="96.0" y="1431.7" font-size="54.4" stroke="#000" stroke-width="1.0">9</text>
<text x="65.0" y="1560.5" font-size="54.4" stroke="#000" stroke-width="1.0">10</text>
<text x="70.0" y="1689.3" font-size="54.4" stroke="#000" stroke-width="1.0">11</text>
<text x="66.0" y="1818.1" font-size="54.4" stroke="#000" stroke-width="1.0">12</text>
<text x="66.0" y="1946.9" font-size="54.4" stroke="#000" stroke-width="1.0">13</text>
<text x="65.0" y="2075.7" font-size="54.4" stroke="#000" stroke-width="1.0">14</text>
<text x="66.0" y="2204.5" font-size="54.4" stroke="#000" stroke-width="1.0">15</text>
<text x="66.0" y="2333.3" font-size="54.4" stroke="#000" stroke-width="1.0">16</text>
<text x="66.0" y="2462.1" font-size="54.4" stroke="#000" stroke-width="1.0">17</text>
<text x="66.0" y="2590.9" font-size="54.4" stroke="#000" stroke-width="1.0">18</text>
<text x="66.0" y="2719.7" font-size="54.4" stroke="#000" stroke-width="1.0">19</text>
<text x="65.0" y="2848.5" font-size="54.4" stroke="#000" stroke-width="1.0">20</text>
<text x="66.0" y="2977.3" font-size="54.4" stroke="#000" stroke-width="1.0">21</text>
<text x="66.0" y="3106.1" font-size="54.4" stroke="#000" stroke-width="1.0">22</text>
<text x="66.0" y="3234.9" font-size="54.4" stroke="#000" stroke-width="1.0">23</text>
<text x="65.0" y="3363.7" font-size="54.4" stroke="#000" stroke-width="1.0">24</text>
<text x="66.0" y="3492.5" font-size="54.4" stroke="#000" stroke-width="1.0">25</text>
</g>
</svg></body></html>
